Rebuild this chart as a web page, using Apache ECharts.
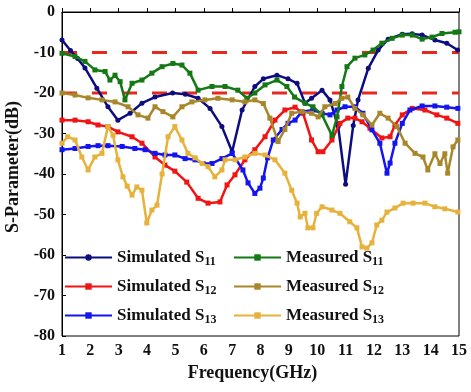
<!DOCTYPE html>
<html><head><meta charset="utf-8">
<script src="https://cdn.jsdelivr.net/npm/echarts@6/dist/echarts.min.js"></script>
<style>html,body{margin:0;padding:0;background:#fff}#c{width:471px;height:392px}</style>
</head><body><div id="c"></div>
<script>
const xTicks = [1,2,3,4,5,6,7,8,9,10,11,12,13,14,15];
const seriesNames = ['Simulated S11','Simulated S12','Simulated S13','Measured S11','Measured S12','Measured S13'];
const refLevels = [-10, -20];

const simS11 = [[1,-6.9],[1.3,-9.5],[1.55,-11.5],[1.81,-13.8],[2.23,-18.8],[2.62,-23.4],[2.97,-26.7],[3.4,-25],[3.82,-22.5],[4.28,-21],[4.9,-20],[5.35,-20.3],[5.8,-21.3],[6.22,-23.8],[6.64,-28.3],[7.0,-34.5],[7.35,-24.2],[7.8,-18.4],[8.1,-16.5],[8.58,-15.6],[8.97,-16.5],[9.29,-17.6],[9.57,-22.5],[9.8,-21.3],[10.17,-19.3],[10.45,-21.7],[10.74,-28.3],[11.0,-42.5],[11.27,-28],[11.44,-21.7],[11.8,-13.9],[12.15,-9.4],[12.5,-6.7],[13.0,-5.5],[13.35,-5.4],[13.7,-5.7],[14.15,-6.9],[14.57,-7.7],[14.95,-9.4]];
const simS12 = [[1,-26.7],[1.46,-26.7],[1.92,-27.1],[2.27,-27.9],[2.62,-28.3],[2.97,-29.6],[3.47,-30.8],[3.82,-32.4],[4.28,-35.8],[4.63,-37.8],[4.98,-39.3],[5.4,-42],[5.8,-46],[6.15,-47.2],[6.57,-46.9],[6.82,-42.7],[7.1,-40.2],[7.45,-36.5],[7.8,-34],[8.16,-30.8],[8.51,-26.7],[8.86,-24.2],[9.22,-23.5],[9.5,-25],[9.8,-31.6],[10.03,-34.5],[10.2,-34.5],[10.52,-31.6],[10.8,-27.5],[11.08,-26.2],[11.33,-26.2],[11.58,-27.1],[11.86,-28.7],[12.28,-31.1],[12.57,-30.8],[12.74,-27.9],[13,-25.4],[13.35,-23.8],[13.8,-24.2],[14.22,-25.4],[14.57,-26.2],[14.96,-27.5]];
const simS13 = [[1,-34],[1.46,-33.7],[1.92,-33.2],[2.27,-33],[2.62,-33],[3.12,-33.2],[3.57,-33.7],[3.93,-34],[4.28,-34.9],[4.63,-35.3],[4.98,-35.3],[5.34,-36.2],[5.69,-36.5],[5.97,-37.4],[6.29,-37.4],[6.64,-36.2],[7.0,-34.9],[7.38,-39],[7.56,-42.2],[7.8,-44.8],[7.98,-43.5],[8.1,-41],[8.25,-36],[8.45,-31.6],[8.76,-29],[8.97,-27.5],[9.22,-26.7],[9.46,-24.6],[9.85,-24.2],[10.17,-25],[10.45,-25.4],[10.7,-24.2],[10.98,-23.4],[11.33,-23.4],[11.61,-25],[11.93,-29.1],[12.21,-32.4],[12.46,-39.8],[12.57,-37.3],[12.74,-32.4],[13,-27.5],[13.27,-24.2],[13.7,-23.2],[14.15,-23.2],[14.57,-23.5],[14.96,-23.8]];
const meaS11 = [[1,-10.2],[1.46,-11],[1.81,-12.2],[2.16,-14.3],[2.52,-14.7],[2.69,-16.8],[2.87,-15.6],[3.05,-17.2],[3.22,-21.7],[3.47,-17.6],[3.82,-16.8],[4.17,-15.1],[4.53,-13.5],[4.91,-12.7],[5.23,-13.1],[5.51,-15.1],[5.8,-19.3],[6.29,-18.4],[6.75,-18.4],[7.2,-19.3],[7.52,-21.3],[7.8,-20],[8.16,-18],[8.58,-16.8],[8.93,-18.4],[9.2,-21],[9.57,-22.5],[9.85,-23.4],[10.17,-25.4],[10.52,-30.5],[10.7,-25.9],[10.87,-18.4],[11.05,-13.5],[11.33,-11.4],[11.68,-10.6],[11.97,-9.4],[12.28,-7.7],[12.64,-6.5],[13,-5.7],[13.35,-5.7],[13.7,-6.7],[14.05,-6.2],[14.4,-5.3],[14.86,-5],[15,-4.9]];
const meaS12 = [[1,-20],[1.46,-20.5],[1.92,-21.2],[2.41,-21.7],[2.87,-22.2],[3.33,-23.4],[3.68,-25.4],[4.03,-26.2],[4.28,-23.4],[4.56,-24.6],[4.91,-25.9],[5.23,-23.4],[5.58,-22.2],[6.04,-21.7],[6.5,-21.3],[7,-21.7],[7.45,-22.2],[7.8,-21.7],[8.1,-22.6],[8.33,-26.2],[8.62,-32],[8.86,-29],[9.1,-25],[9.46,-24.6],[9.8,-25],[10.03,-25.9],[10.27,-23.4],[10.63,-22.6],[10.87,-21.3],[11.08,-21],[11.33,-23.8],[11.61,-25.4],[11.93,-27.9],[12.21,-25],[12.5,-26.2],[12.81,-28.3],[13.1,-32.4],[13.45,-34.9],[13.73,-35.8],[13.9,-39],[14.15,-35],[14.33,-37.4],[14.5,-35],[14.6,-39.8],[14.79,-33.3],[14.96,-31.6]];
const meaS13 = [[1,-32.4],[1.2,-30.8],[1.46,-31.6],[1.7,-35.8],[1.92,-39],[2.16,-35.8],[2.41,-34.9],[2.62,-28.3],[2.8,-30.4],[2.97,-36.5],[3.15,-40.7],[3.3,-43],[3.47,-45.2],[3.64,-43.2],[3.82,-44],[3.99,-52.1],[4.17,-48.9],[4.35,-47.7],[4.53,-40],[4.74,-30.8],[4.98,-28.3],[5.23,-31.6],[5.44,-34.9],[5.69,-36],[5.94,-37.4],[6.15,-38.2],[6.39,-40.7],[6.64,-39],[6.75,-36.5],[7.1,-36.5],[7.45,-35.8],[7.8,-34.9],[8.16,-35.3],[8.51,-36.5],[8.86,-39.8],[9.1,-44],[9.29,-47.2],[9.4,-50.6],[9.57,-49.7],[9.67,-53.3],[9.85,-53.3],[9.98,-49.7],[10.17,-48.1],[10.52,-48.9],[10.8,-49.7],[11.15,-51.8],[11.4,-53.3],[11.58,-58],[11.75,-58.3],[11.93,-57],[12.1,-52.6],[12.28,-51.4],[12.46,-49.4],[12.74,-48.4],[13.03,-47.2],[13.38,-47.2],[13.8,-47.2],[14.15,-48.1],[14.5,-48.6],[14.96,-49.4]];

const FONT = 'Liberation Serif';
const colors = ['#0d0d80','#f01414','#1414f0','#147814','#a8862a','#e6b23c'];
const datasets = [simS11, simS12, simS13, meaS11, meaS12, meaS13];
const symbols = ['circle','rect','rect','rect','rect','rect'];

const series = seriesNames.map((n, i) => ({
  name: n, type: 'line', data: datasets[i], symbol: symbols[i], symbolSize: 5,
  lineStyle: {color: colors[i], width: 2.5}, itemStyle: {color: colors[i]},
  z: 3 + i, animation: false
}));
refLevels.forEach(v => series.push({
  name: 'ref' + v, type: 'line', data: [[1, v], [15, v]], symbol: 'none',
  lineStyle: {color: '#e8281e', width: 3, type: [15, 15]}, z: 2, animation: false, silent: true
}));

const rich = {
  a: {fontFamily: FONT, fontWeight: 'bold', fontSize: 17, color: '#111'},
  b: {fontFamily: FONT, fontWeight: 'bold', fontSize: 12, color: '#111', padding: [9, 0, 0, 0]}
};
const fmt = n => '{a|' + n.slice(0, -2) + '}{b|' + n.slice(-2) + '}';
const legendBase = {orient: 'vertical', itemWidth: 47, itemHeight: 8, itemGap: 10,
  textStyle: {rich: rich}, formatter: fmt, top: 244, itemStyle: {borderWidth: 0}};

const chart = echarts.init(document.getElementById('c'));
chart.setOption({
  animation: false,
  backgroundColor: '#fff',
  grid: {left: 62, right: 12, top: 12, bottom: 56, show: true, borderColor: '#000', borderWidth: 1, outerBoundsMode: 'none'},
  legend: [
    Object.assign({}, legendBase, {left: 59, data: seriesNames.slice(0, 3)}),
    Object.assign({}, legendBase, {left: 228, data: seriesNames.slice(3)})
  ],
  xAxis: {
    type: 'value', min: xTicks[0], max: xTicks[xTicks.length - 1], interval: 1,
    name: 'Frequency(GHz)', nameLocation: 'middle', nameGap: 24,
    nameTextStyle: {fontFamily: FONT, fontWeight: 'bold', fontSize: 18, color: '#111', padding: [0, 16, 0, 0]},
    axisLine: {lineStyle: {color: '#000', width: 1}},
    axisTick: {inside: true, length: 4, lineStyle: {color: '#000'}},
    axisLabel: {fontFamily: FONT, fontWeight: 'bold', fontSize: 16, color: '#111', margin: 7},
    splitLine: {show: false}
  },
  yAxis: {
    type: 'value', min: -80, max: 0, interval: 10,
    name: 'S-Parameter(dB)', nameLocation: 'middle', nameGap: 37,
    nameTextStyle: {fontFamily: FONT, fontWeight: 'bold', fontSize: 18, color: '#111', padding: [0, 0, 0, 14]},
    axisLine: {show: true, lineStyle: {color: '#000', width: 1}},
    axisTick: {inside: true, length: 4, lineStyle: {color: '#000'}},
    axisLabel: {fontFamily: FONT, fontWeight: 'bold', fontSize: 16, color: '#111', margin: 7},
    splitLine: {show: false}
  },
  series: series
});
</script></body></html>
